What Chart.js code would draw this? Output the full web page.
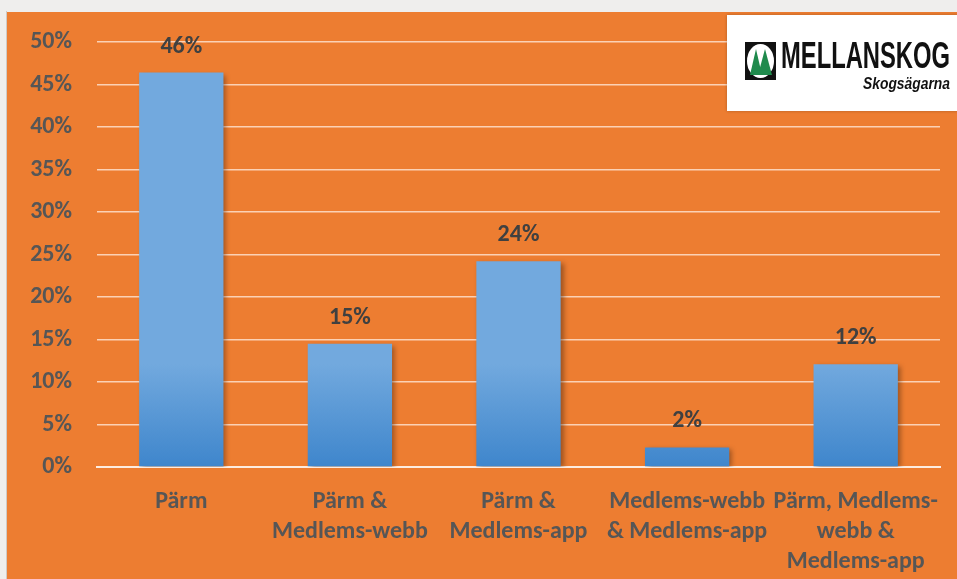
<!DOCTYPE html>
<html>
<head>
<meta charset="utf-8">
<script src="https://cdn.jsdelivr.net/npm/chart.js@4.4.1/dist/chart.umd.min.js"></script>
<style>
  html, body { margin: 0; padding: 0; background: #efeeed; }
  #wrap { position: absolute; left: 7px; top: 12px; width: 950px; height: 567px; background: #ED7D31; }
  #page { position: absolute; left: 6px; top: 11px; width: 1px; height: 568px; background: #cfcac6; }
</style>
</head>
<body>
<div id="page"></div>
<div id="wrap"><canvas id="chart"></canvas></div>
<script>
// answers (percent of respondents)
const categories = [
  ['Pärm'],
  ['Pärm &', 'Medlems-webb'],
  ['Pärm &', 'Medlems-app'],
  ['Medlems-webb', '& Medlems-app'],
  ['Pärm, Medlems-', 'webb &', 'Medlems-app']
];
const shares = [46.4, 14.5, 24.2, 2.3, 12.1];
const shareLabels = ['46%', '15%', '24%', '2%', '12%'];
const yTicks = [0, 5, 10, 15, 20, 25, 30, 35, 40, 45, 50];

const FONT = 'Carlito, Lato, "Open Sans", sans-serif';
const textGrey = '#565656';

// gradient + soft shadow on bars, like the Excel original
const barLook = {
  id: 'barLook',
  beforeDatasetDraw(chart, args) {
    const ctx = chart.ctx;
    args.meta.data.forEach(bar => {
      const g = ctx.createLinearGradient(0, bar.y, 0, bar.base);
      g.addColorStop(0, '#72A9DE');
      g.addColorStop(1, '#3F86CC');
      bar.options.backgroundColor = g;
    });
    ctx.save();
    ctx.shadowColor = 'rgba(60,30,10,0.45)';
    ctx.shadowBlur = 5;
    ctx.shadowOffsetX = 3;
    ctx.shadowOffsetY = 2;
  },
  afterDatasetDraw(chart) {
    chart.ctx.restore();
  }
};

const valueLabels = {
  id: 'valueLabels',
  afterDatasetsDraw(chart) {
    const ctx = chart.ctx;
    ctx.save();
    ctx.font = 'bold 24px ' + FONT;
    ctx.fillStyle = '#404040';
    ctx.textAlign = 'center';
    ctx.textBaseline = 'middle';
    chart.getDatasetMeta(0).data.forEach((bar, i) => {
      ctx.fillText(shareLabels[i], bar.x, bar.y - 26);
    });
    ctx.restore();
  }
};

const logo = {
  id: 'logo',
  afterDraw(chart) {
    const ctx = chart.ctx;
    ctx.save();
    ctx.shadowColor = 'rgba(0,0,0,0.25)';
    ctx.shadowBlur = 3;
    ctx.fillStyle = '#ffffff';
    ctx.fillRect(720, 3, 232, 96);
    ctx.shadowColor = 'transparent';

    // icon
    const ix = 738, iy = 30, iw = 31, ih = 38;
    ctx.fillStyle = '#111111';
    ctx.fillRect(ix, iy, iw, ih);
    ctx.fillStyle = '#ffffff';
    ctx.beginPath();
    ctx.ellipse(ix + iw / 2, iy + ih / 2, iw / 2 - 2, ih / 2 - 2, 0, 0, Math.PI * 2);
    ctx.fill();
    ctx.fillStyle = '#1f8a4c';
    ctx.beginPath();
    ctx.moveTo(ix + 5, iy + ih - 5);
    ctx.lineTo(ix + 11, iy + 7);
    ctx.lineTo(ix + 17, iy + ih - 5);
    ctx.closePath();
    ctx.fill();
    ctx.beginPath();
    ctx.moveTo(ix + 13, iy + ih - 5);
    ctx.lineTo(ix + 20, iy + 7);
    ctx.lineTo(ix + 27, iy + ih - 5);
    ctx.closePath();
    ctx.fill();

    // MELLANSKOG, squeezed to fit
    ctx.fillStyle = '#111111';
    ctx.textBaseline = 'alphabetic';
    ctx.font = 'bold 37px "Liberation Sans", Arial, sans-serif';
    let w = ctx.measureText('MELLANSKOG').width;
    ctx.save();
    ctx.translate(774, 56);
    ctx.scale(169 / w, 1);
    ctx.fillText('MELLANSKOG', 0, 0);
    ctx.restore();

    ctx.font = 'italic bold 17px "Liberation Sans", Arial, sans-serif';
    w = ctx.measureText('Skogsägarna').width;
    ctx.save();
    ctx.translate(856, 77);
    ctx.scale(87 / w, 1);
    ctx.fillText('Skogsägarna', 0, 0);
    ctx.restore();
    ctx.restore();
  }
};

new Chart(document.getElementById('chart'), {
  type: 'bar',
  data: {
    labels: categories,
    datasets: [{
      data: shares,
      backgroundColor: '#5B9BD5',
      borderWidth: 0,
      categoryPercentage: 1,
      barPercentage: 0.5
    }]
  },
  options: {
    responsive: true,
    maintainAspectRatio: false,
    animation: false,
    layout: { padding: { top: 30, right: 17, left: 0, bottom: 0 } },
    plugins: {
      legend: { display: false },
      tooltip: { enabled: false }
    },
    scales: {
      x: {
        grid: { display: false },
        border: { display: true, color: 'rgba(255,255,255,0.85)', width: 2 },
        ticks: {
          color: textGrey,
          font: { family: FONT, size: 24, weight: 'bold', lineHeight: 1.25 },
          padding: 12,
          maxRotation: 0,
          autoSkip: false
        },
        afterFit(scale) { scale.height = 112; }
      },
      y: {
        min: 0,
        max: 50,
        afterBuildTicks(scale) { scale.ticks = yTicks.map(v => ({ value: v })); },
        grid: {
          color: ctx => ctx.tick && ctx.tick.value === 0 ? 'rgba(255,255,255,0)' : 'rgba(255,238,225,0.75)',
          lineWidth: 1.5,
          drawTicks: false
        },
        border: { display: false },
        ticks: {
          color: textGrey,
          font: { family: FONT, size: 24, weight: 'bold' },
          padding: 25,
          callback: v => v + '%'
        },
        afterFit(scale) {
          scale.width = 90;
          scale.paddingTop = 0;
          scale.paddingBottom = 0;
        }
      }
    }
  },
  plugins: [barLook, valueLabels, logo]
});
</script>
</body>
</html>
